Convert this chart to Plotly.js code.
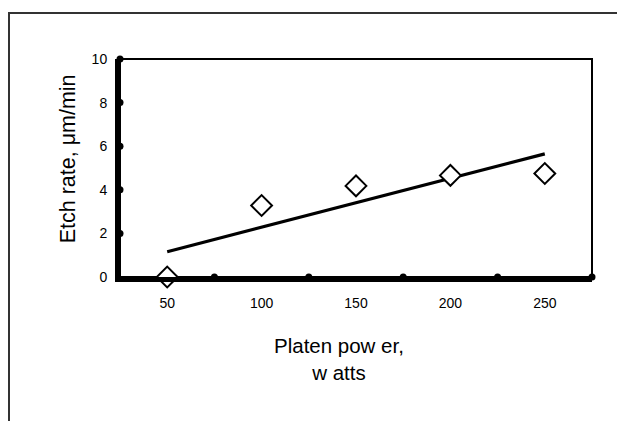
<!DOCTYPE html>
<html>
<head>
<meta charset="utf-8">
<script src="https://cdn.plot.ly/plotly-3.0.1.min.js"></script>
<style>
  html, body { margin: 0; padding: 0; background: #fff; }
  #wrap { position: relative; width: 617px; height: 421px; overflow: hidden; }
  #frame { position: absolute; left: 8px; top: 12px; width: 620px; height: 420px;
           border-top: 2px solid #333; border-left: 2px solid #333; pointer-events: none; }
  #chart { position: absolute; left: 0; top: 0; width: 617px; height: 421px; }
</style>
</head>
<body>
<div id="wrap">
  <div id="chart"></div>
  <div id="frame"></div>
</div>
<script>
// Data
const powerWatts = [50, 100, 150, 200, 250];
const etchRate = [0, 3.28, 4.18, 4.66, 4.75];
const trendX = [50, 250];
const trendY = [1.16, 5.65];
const xTickVals = [50, 100, 150, 200, 250];
const xTickText = ["50", "100", "150", "200", "250"];
const yTickVals = [0, 2, 4, 6, 8, 10];
const yTickText = ["0", "2", "4", "6", "8", "10"];
const xDotVals = [75, 125, 175, 225, 275];
const yDotVals = [2, 4, 6, 8, 10];
const xTitle = "Platen pow er,<br>w atts";
const yTitle = "Etch rate, μm/min";

const font = "Liberation Sans, Arial, sans-serif";

const traces = [
  {
    x: xDotVals, y: xDotVals.map(() => 0),
    mode: "markers", type: "scatter", cliponaxis: false, hoverinfo: "skip",
    marker: { symbol: "circle", size: 7, color: "#000" }, showlegend: false
  },
  {
    x: yDotVals.map(() => 25), y: yDotVals,
    mode: "markers", type: "scatter", cliponaxis: false, hoverinfo: "skip",
    marker: { symbol: "circle", size: 7, color: "#000" }, showlegend: false
  },
  {
    x: trendX, y: trendY, mode: "lines", type: "scatter",
    line: { color: "#000", width: 3.2 }, showlegend: false
  },
  {
    x: powerWatts, y: etchRate, mode: "markers", type: "scatter", cliponaxis: false,
    marker: { symbol: "diamond", size: 16, color: "#fff", line: { color: "#000", width: 2 } },
    showlegend: false
  }
];

const layout = {
  width: 617, height: 421,
  margin: { l: 120, r: 25, t: 59, b: 144, pad: 0 },
  paper_bgcolor: "rgba(0,0,0,0)", plot_bgcolor: "#fff",
  font: { family: font, color: "#000", size: 14 },
  xaxis: {
    range: [25, 275], tickvals: xTickVals, ticktext: xTickText,
    showgrid: false, zeroline: false, ticks: "outside", ticklen: 9, tickcolor: "rgba(0,0,0,0)",
    showline: true, linecolor: "#000", linewidth: 5,
    tickfont: { size: 14, family: font }
  },
  yaxis: {
    range: [0, 10], tickvals: yTickVals, ticktext: yTickText,
    showgrid: false, zeroline: false, ticks: "outside", ticklen: 5, tickcolor: "rgba(0,0,0,0)",
    showline: true, linecolor: "#000", linewidth: 5,
    tickfont: { size: 14, family: font }
  },
  shapes: [
    { type: "rect", xref: "paper", yref: "paper", x0: 0, x1: 1, y0: 0, y1: 1,
      line: { color: "#000", width: 2 }, layer: "below" }
  ],
  annotations: [
    { text: xTitle, xref: "paper", yref: "paper", x: 0.464, y: -0.378,
      xanchor: "center", yanchor: "middle", showarrow: false,
      font: { size: 20.5, family: font, color: "#000" } },
    { text: yTitle, xref: "paper", yref: "paper", x: -0.11, y: 0.54, textangle: -90,
      xanchor: "center", yanchor: "middle", showarrow: false,
      font: { size: 21.5, family: font, color: "#000" } }
  ]
};

Plotly.newPlot("chart", traces, layout, { displayModeBar: false, staticPlot: true });
</script>
</body>
</html>
